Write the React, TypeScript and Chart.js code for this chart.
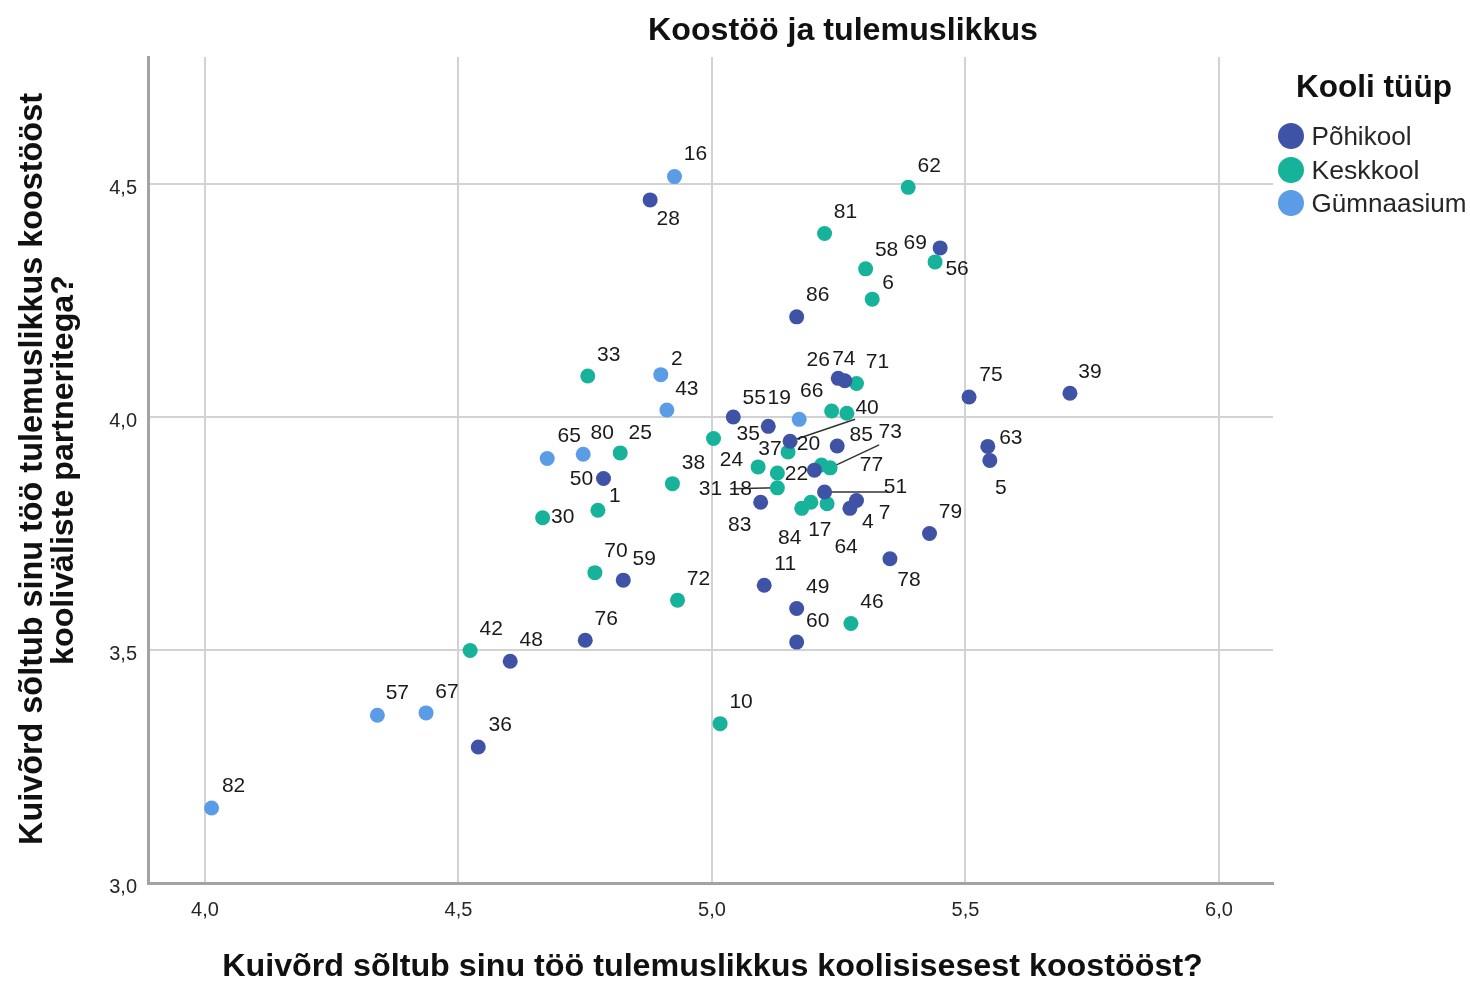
import React, { useEffect, useRef } from "react";
import { Chart, registerables } from "chart.js";
Chart.register(...registerables);

const CHART_TITLE = "Koostöö ja tulemuslikkus";
const X_TITLE = "Kuivõrd sõltub sinu töö tulemuslikkus koolisisesest koostööst?";
const Y_TITLE_LINES = ["Kuivõrd sõltub sinu töö tulemuslikkus koostööst", "kooliväliste partneritega?"];
const LEGEND_TITLE = "Kooli tüüp";
const SERIES_NAMES = ["Põhikool", "Keskkool", "Gümnaasium"];
const SERIES_COLORS = ["#3f53a6", "#17b29a", "#5a9de6"];
const X_TICKS = [4.0, 4.5, 5.0, 5.5, 6.0];
const Y_TICKS = [3.0, 3.5, 4.0, 4.5];

const pohikoolIds = ["28", "69", "86", "26", "74", "75", "39", "63", "5", "79", "78", "11", "49", "60", "50", "59", "76", "48", "36", "55", "35", "40", "85", "20", "51", "83", "7", "4"];
const pohikoolX = [4.878, 5.45, 5.167, 5.249, 5.262, 5.507, 5.706, 5.544, 5.548, 5.429, 5.351, 5.103, 5.167, 5.167, 4.786, 4.825, 4.75, 4.602, 4.539, 5.042, 5.111, 5.154, 5.247, 5.202, 5.222, 5.096, 5.285, 5.272];
const pohikoolY = [4.466, 4.363, 4.215, 4.083, 4.078, 4.043, 4.051, 3.937, 3.907, 3.75, 3.696, 3.639, 3.589, 3.517, 3.868, 3.65, 3.521, 3.476, 3.292, 4.0, 3.98, 3.948, 3.938, 3.886, 3.839, 3.817, 3.821, 3.804];

const keskkoolIds = ["62", "81", "56", "58", "6", "33", "71", "25", "1", "30", "38", "70", "72", "42", "10", "46", "66", "", "37", "24", "18", "22", "77", "73", "31", "84", "17", "64"];
const keskkoolX = [5.387, 5.222, 5.44, 5.303, 5.316, 4.755, 5.285, 4.819, 4.775, 4.666, 4.922, 4.769, 4.932, 4.523, 5.016, 5.274, 5.236, 5.266, 5.15, 5.003, 5.091, 5.129, 5.216, 5.233, 5.129, 5.177, 5.195, 5.227];
const keskkoolY = [4.493, 4.394, 4.333, 4.318, 4.253, 4.088, 4.072, 3.923, 3.8, 3.784, 3.857, 3.666, 3.607, 3.499, 3.342, 3.557, 4.013, 4.008, 3.925, 3.954, 3.893, 3.88, 3.897, 3.891, 3.848, 3.804, 3.817, 3.814];

const gymnaasiumIds = ["16", "2", "43", "65", "80", "57", "67", "82", "19"];
const gymnaasiumX = [4.926, 4.899, 4.911, 4.675, 4.746, 4.34, 4.436, 4.013, 5.172];
const gymnaasiumY = [4.516, 4.091, 4.015, 3.911, 3.92, 3.36, 3.365, 3.161, 3.995];

// label placement (pixel offsets from the point), default up-right
const DEFAULT_LABEL_OFFSET: [number, number] = [21, -21];
const LABEL_OFFSETS: Record<string, [number, number]> = {
  "28": [18, 19], "69": [-25, -5], "86": [21, -22], "26": [-20, -18], "74": [-1, -21], "75": [22, -22],
  "39": [20, -21], "63": [23, -8], "5": [11, 28], "78": [19, 22], "50": [-22, 1], "36": [22, -22],
  "55": [21, -19], "35": [-20, 8], "40": [77, -33], "85": [24, -11], "20": [-6, -26], "51": [71, -5],
  "83": [-21, 23], "7": [28, 13], "4": [18, 14],
  "56": [22, 7], "58": [21, -19], "6": [16, -16], "25": [20, -20], "1": [17, -14], "30": [20, 0],
  "38": [21, -20], "66": [-20, -20], "37": [-18, -3], "24": [18, 22], "18": [-18, 22], "22": [19, 1],
  "77": [50, 0], "73": [60, -36], "31": [-67, 1], "84": [-12, 30], "17": [9, 28], "64": [19, 43],
  "16": [21, -22], "2": [16, -15], "43": [20, -21], "65": [22, -22], "80": [19, -21], "57": [20, -22],
  "82": [22, -22], "19": [-20, -21],
};
const LEADER_ENDS: Record<string, [number, number]> = {
  "40": [65, -22], "73": [49, -23], "51": [62, 0], "31": [-47, 1],
};

const SERIES = [
  { ids: pohikoolIds, xs: pohikoolX, ys: pohikoolY },
  { ids: keskkoolIds, xs: keskkoolX, ys: keskkoolY },
  { ids: gymnaasiumIds, xs: gymnaasiumX, ys: gymnaasiumY },
];

const FONT = '"Liberation Sans", Arial, sans-serif';

// draws text whose font size is chosen so that its natural width equals `width`
function sizedText(ctx: CanvasRenderingContext2D, text: string, x: number, y: number, weight: string, width: number, align: CanvasTextAlign, color: string) {
  ctx.save();
  ctx.font = `${weight} 40px ${FONT}`;
  const natural = ctx.measureText(text).width;
  const size = (40 * width) / natural;
  ctx.font = `${weight} ${size.toFixed(2)}px ${FONT}`;
  ctx.fillStyle = color;
  ctx.textAlign = align;
  ctx.textBaseline = "alphabetic";
  ctx.fillText(text, x, y);
  ctx.restore();
}

const overlayPlugin = {
  id: "overlay",
  beforeDatasetsDraw(chart: any) {
    const ctx: CanvasRenderingContext2D = chart.ctx;
    ctx.save();
    ctx.strokeStyle = "#333333";
    ctx.lineWidth = 1.5;
    SERIES.forEach((s, si) => {
      const meta = chart.getDatasetMeta(si);
      s.ids.forEach((id, i) => {
        const end = LEADER_ENDS[id];
        if (!end) return;
        const p = meta.data[i];
        ctx.beginPath();
        ctx.moveTo(p.x, p.y);
        ctx.lineTo(p.x + end[0], p.y + end[1]);
        ctx.stroke();
      });
    });
    ctx.restore();
  },
  afterDatasetsDraw(chart: any) {
    const ctx: CanvasRenderingContext2D = chart.ctx;
    ctx.save();
    ctx.font = `21px ${FONT}`;
    ctx.fillStyle = "#1a1a1a";
    ctx.textAlign = "center";
    ctx.textBaseline = "middle";
    SERIES.forEach((s, si) => {
      const meta = chart.getDatasetMeta(si);
      s.ids.forEach((id, i) => {
        if (!id) return;
        const p = meta.data[i];
        const off = LABEL_OFFSETS[id] || DEFAULT_LABEL_OFFSET;
        ctx.fillText(id, p.x + off[0], p.y + off[1]);
      });
    });
    ctx.restore();
  },
  afterDraw(chart: any) {
    const ctx: CanvasRenderingContext2D = chart.ctx;
    const xs = chart.scales.x;
    const ys = chart.scales.y;
    const fmt = (v: number) => v.toFixed(1).replace(".", ",");
    ctx.save();
    ctx.font = `20px ${FONT}`;
    ctx.fillStyle = "#262626";
    ctx.textBaseline = "alphabetic";
    ctx.textAlign = "center";
    X_TICKS.forEach((v) => ctx.fillText(fmt(v), xs.getPixelForValue(v), 916));
    ctx.textAlign = "right";
    Y_TICKS.forEach((v) => ctx.fillText(fmt(v), 137, ys.getPixelForValue(v) + 10));
    ctx.restore();
    // titles
    sizedText(ctx, CHART_TITLE, 843, 40, "bold", 390, "center", "#111111");
    sizedText(ctx, X_TITLE, 712.5, 976, "bold", 981, "center", "#111111");
    const yLines: [string, number, number, number][] = [
      [Y_TITLE_LINES[0], 42, 469, 752],
      [Y_TITLE_LINES[1], 73, 470, 390],
    ];
    yLines.forEach(([txt, bx, cy, w]) => {
      ctx.save();
      ctx.translate(bx, cy);
      ctx.rotate(-Math.PI / 2);
      sizedText(ctx, txt, 0, 0, "bold", w, "center", "#111111");
      ctx.restore();
    });
    // legend
    sizedText(ctx, LEGEND_TITLE, 1296, 97, "bold", 156, "left", "#111111");
    const itemY = [136, 170, 203];
    const itemW = [100, 108, 155];
    SERIES_NAMES.forEach((name, i) => {
      ctx.save();
      ctx.fillStyle = SERIES_COLORS[i];
      ctx.beginPath();
      ctx.arc(1291, itemY[i], 13, 0, Math.PI * 2);
      ctx.fill();
      ctx.restore();
      sizedText(ctx, name, 1311.5, itemY[i] + 8.5, "normal", itemW[i], "left", "#262626");
    });
  },
};

export default function App() {
  const ref = useRef<HTMLCanvasElement>(null);
  useEffect(() => {
    document.body.style.margin = "0";
    const datasets = SERIES.map((s, si) => ({
      label: SERIES_NAMES[si],
      data: s.xs.map((x, i) => ({ x, y: s.ys[i] })),
      backgroundColor: SERIES_COLORS[si],
      borderWidth: 0,
      pointRadius: 7.5,
      pointHoverRadius: 7.5,
    }));
    const chart = new Chart(ref.current!, {
      type: "scatter",
      data: { datasets },
      options: {
        animation: false,
        responsive: false,
        devicePixelRatio: 1,
        events: [],
        layout: { autoPadding: false, padding: { top: 57, right: 197, bottom: 0, left: 0 } },
        plugins: { legend: { display: false }, tooltip: { enabled: false }, title: { display: false } },
        scales: {
          x: {
            type: "linear",
            min: 3.8876,
            max: 6.1065,
            afterBuildTicks: (s: any) => { s.ticks = X_TICKS.map((v) => ({ value: v })); },
            afterFit: (s: any) => { s.height = 98; },
            ticks: { display: false },
            grid: { color: "#d2d2d2", lineWidth: 2, drawTicks: false },
            border: { display: true, color: "#a3a3a3", width: 3 },
          },
          y: {
            type: "linear",
            min: 3.0,
            max: 4.7727,
            afterBuildTicks: (s: any) => { s.ticks = Y_TICKS.map((v) => ({ value: v })); },
            afterFit: (s: any) => { s.width = 148; },
            ticks: { display: false },
            grid: { color: "#d2d2d2", lineWidth: 2, drawTicks: false },
            border: { display: true, color: "#a3a3a3", width: 3 },
          },
        },
      } as any,
      plugins: [overlayPlugin],
    });
    return () => chart.destroy();
  }, []);
  return (
    <div style={{ width: 1470, height: 981 }}>
      <canvas ref={ref} width={1470} height={981} style={{ display: "block", width: 1470, height: 981 }} />
    </div>
  );
}
